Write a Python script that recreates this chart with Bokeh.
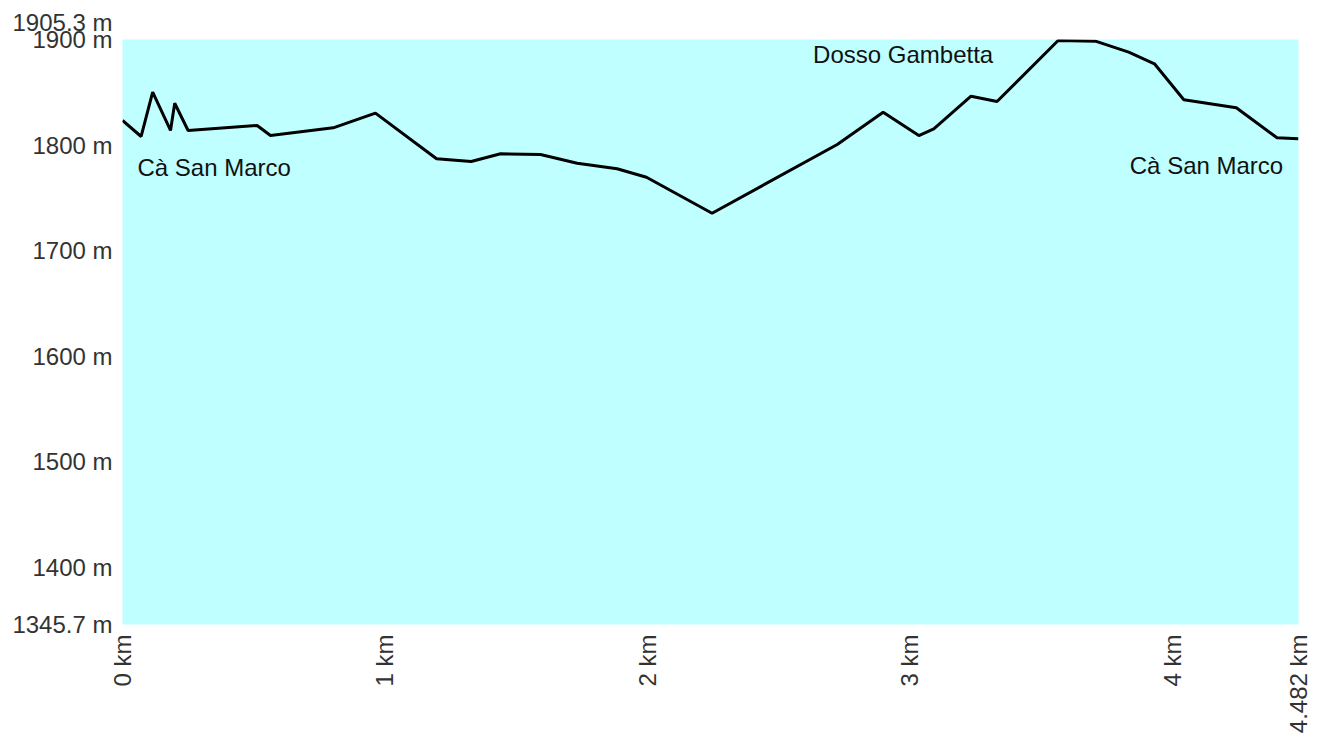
import math
from bokeh.plotting import figure
from bokeh.models import FixedTicker, Label, Range1d, Title
from bokeh.embed import file_html
from bokeh.resources import INLINE

# Distance along the track (km) and elevation (m)
distance_km = [0.0, 0.071, 0.115, 0.183, 0.199, 0.250, 0.513, 0.564, 0.803, 0.964,
               1.197, 1.329, 1.441, 1.593, 1.733, 1.885, 1.997, 2.247, 2.724, 2.899,
               3.035, 3.092, 3.234, 3.333, 3.566, 3.708, 3.835, 3.933, 4.045, 4.245,
               4.400, 4.482]
elevation_m = [1823.3, 1808.1, 1850.1, 1813.8, 1839.6, 1813.8, 1818.5, 1809.0, 1816.3, 1830.2,
               1787.0, 1784.4, 1791.7, 1791.0, 1782.8, 1777.5, 1769.5, 1735.4, 1800.5, 1831.1,
               1809.0, 1815.4, 1846.3, 1841.3, 1899.1, 1898.4, 1888.0, 1877.0, 1842.9, 1835.3,
               1806.9, 1805.9]

x_ticks = [0, 1, 2, 3, 4, 4.482]
x_tick_labels = ["0 km", "1 km", "2 km", "3 km", "4 km", "4.482 km"]
y_ticks = [1345.7, 1400, 1500, 1600, 1700, 1800, 1900]
y_tick_labels = ["1345.7 m", "1400 m", "1500 m", "1600 m", "1700 m", "1800 m", "1900 m"]
y_max_label = "1905.3 m"

places = ["Cà San Marco", "Dosso Gambetta", "Cà San Marco"]
place_x = [0.057, 2.632, 3.839]
place_y = [1779.0, 1886.0, 1780.5]

FONT = "Liberation Sans"

p = figure(width=1313, height=739, output_backend="svg", toolbar_location=None,
           x_range=Range1d(0, 4.482), y_range=Range1d(1345.7, 1900),
           min_border_left=122, min_border_right=15, min_border_top=39, min_border_bottom=115)
p.background_fill_color = "#bfffff"
p.border_fill_color = "white"
p.outline_line_color = None
p.grid.visible = False

# the top value of the profile, written above the 1900 m label
p.title = Title(text=y_max_label, align="left", offset=-110, standoff=7,
                text_font=FONT, text_font_size="24px", text_font_style="normal",
                text_color="#333333")

p.line(distance_km, elevation_m, line_color="black", line_width=3)

for name, px_, py_ in zip(places, place_x, place_y):
    p.add_layout(Label(x=px_, y=py_, text=name, text_font=FONT, text_font_size="24px",
                       text_color="#111111", text_baseline="alphabetic", text_align="left"))

# x axis
p.xaxis.ticker = FixedTicker(ticks=x_ticks)
p.xaxis.major_label_overrides = {t: l for t, l in zip(x_ticks, x_tick_labels)}
p.xaxis.major_label_orientation = math.pi / 2
# y axis
p.yaxis.ticker = FixedTicker(ticks=y_ticks)
p.yaxis.major_label_overrides = {t: l for t, l in zip(y_ticks, y_tick_labels)}

for ax in (p.xaxis, p.yaxis):
    ax.axis_line_color = None
    ax.major_tick_line_color = None
    ax.minor_tick_line_color = None
    ax.major_tick_out = 0
    ax.major_tick_in = 0
    ax.major_label_standoff = 10
    ax.major_label_text_font = FONT
    ax.major_label_text_font_size = "24px"
    ax.major_label_text_color = "#333333"

open("out.html", "w").write(file_html(p, INLINE))
